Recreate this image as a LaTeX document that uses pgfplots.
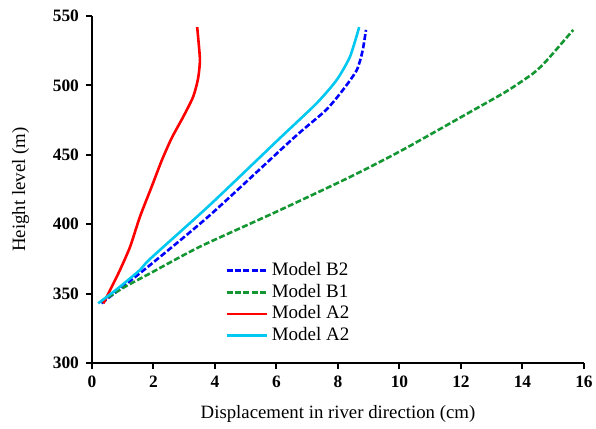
\documentclass[border=0pt]{standalone}
\usepackage{pgfplots}
\pgfplotsset{compat=1.18}
\usepackage{fontspec}
\setmainfont{Liberation Serif}
\definecolor{cB}{RGB}{0,0,255}
\definecolor{cG}{RGB}{20,150,50}
\definecolor{cR}{RGB}{255,0,0}
\definecolor{cC}{RGB}{0,200,240}
\begin{document}
\begin{tikzpicture}
\path[use as bounding box] (-46pt,-33pt) rectangle (252pt,181.5pt);
\begin{axis}[
  scale only axis, width=246pt, height=173.5pt,
  xmin=0, xmax=16, ymin=300, ymax=550,
  xtick={0,2,...,16}, ytick={300,350,...,550},
  axis x line*=bottom, axis y line*=left,
  axis line style={line width=1pt, -},
  tick align=outside, tick style={line width=1pt, black}, major tick length=3pt,
  /pgf/number format/assume math mode=true,
  /pgf/number format/1000 sep={},
  ticklabel style={font=\bfseries\fontsize{8.7}{10}\selectfont},
  label style={font=\fontsize{9.4}{11}\selectfont},
  xlabel={Displacement in river direction (cm)},
  ylabel={Height level (m)},
  xlabel style={yshift=-2pt},
  ylabel style={yshift=5pt},
  legend style={at={(0.27,0.2935)}, anchor=north west, draw=none, fill=none,
    font=\fontsize{9.5}{11}\selectfont, row sep=1.85pt, inner sep=0pt,
    nodes={inner sep=0pt, text height=7pt, text depth=2pt}},
  legend cell align=left,
  legend image code/.code={\draw[#1] (0pt,0pt) -- (20pt,0pt); \path (22pt,0pt);},
]
\addplot[cB, line width=1.3pt, dash pattern=on 3pt off 1.2pt, smooth, tension=0.4] coordinates {
(0.31,343) (1.0,355) (1.89,370.6) (3.84,406.6) (6.55,462) (7.6,482) (8.17,497) (8.61,511) (8.8,525) (8.91,540)};
\addlegendentry{Model B2}
\addplot[cG, line width=1.3pt, dash pattern=on 3pt off 1.2pt, smooth, tension=0.4] coordinates {
(0.3,344) (1.0,354) (1.89,364.6) (3.51,383.8) (6,409) (8.39,434) (10.1,453.5) (12.51,483.5) (13.5,496) (14.35,508.7) (14.79,518) (15.65,540)};
\addlegendentry{Model B1}
\addplot[cR, line width=1.3pt, smooth, tension=0.4] coordinates {
(0.37,343) (0.59,352.6) (0.91,367) (1.24,383.8) (1.56,405.4) (1.94,427) (2.27,446) (2.59,462) (2.97,477.5) (3.29,491.8) (3.45,505) (3.51,518) (3.46,532.6) (3.42,542)};
\addlegendentry{Model A2}
\addplot[cC, line width=1.3pt, smooth, tension=0.4] coordinates {
(0.2,343) (0.8,353) (1.56,367) (1.89,375) (3.84,414) (6.11,462) (7.3,487) (7.96,504) (8.39,520.7) (8.69,542)};
\addlegendentry{Model A2}
\end{axis}
\end{tikzpicture}
\end{document}
